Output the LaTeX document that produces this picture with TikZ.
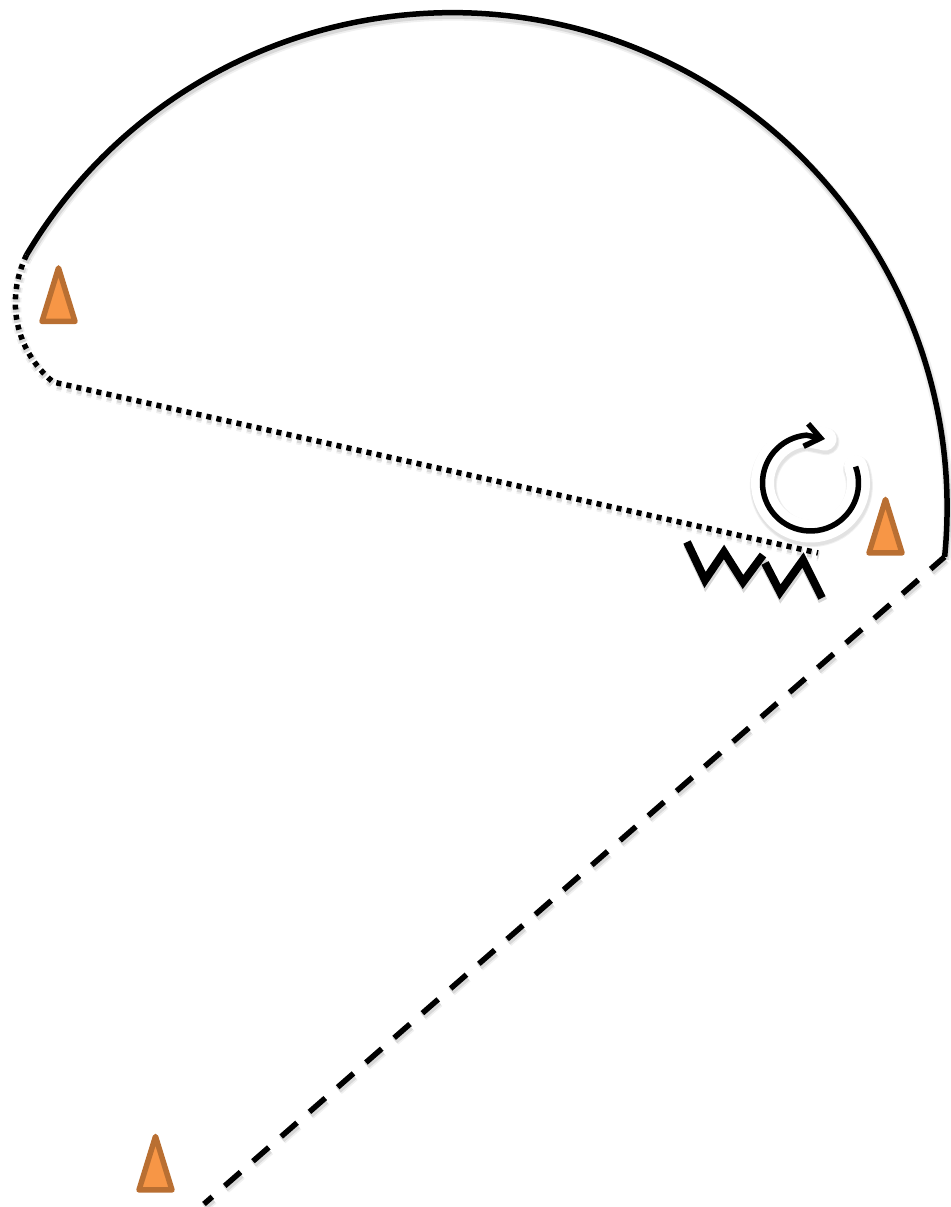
\documentclass[tikz,border=0pt]{standalone}
\usetikzlibrary{arrows.meta}

\definecolor{coneorange}{HTML}{F79646}
\definecolor{coneedge}{HTML}{B96F32}

\tikzset{
  softshadow/.style={
    preaction={draw=black, opacity=0.06, line width=0.2cm, #1, transform canvas={xshift=0.5pt, yshift=-1.7pt}},
    preaction={draw=black, opacity=0.10, line width=0.13cm, #1, transform canvas={xshift=0.5pt, yshift=-1.7pt}}},
  course/.style={line width=0.11cm, softshadow={}},
  coursedots/.style={line width=0.11cm, dash pattern=on 0.1cm off 0.105cm, softshadow={dash pattern=on 0.1cm off 0.105cm}},
  coursedash/.style={line width=0.11cm, dash pattern=on 0.42cm off 0.33cm, dash phase=0.05cm,
    softshadow={dash pattern=on 0.42cm off 0.33cm, dash phase=0.05cm}},
  zigzag/.style={line width=0.16cm, line join=miter, softshadow={line width=0.18cm}},
  haloring/.style={line width=0.46cm, white, line cap=round},
  haloshade/.style={line cap=round, black, opacity=0.06, transform canvas={xshift=0.5pt, yshift=-1.5pt}},
  cone/.pic={
    \draw[line width=0.11cm, line join=round, draw=coneedge, fill=coneorange]
      (0,1.07) -- (0.33,0) -- (-0.33,0) -- cycle;
  }
}

\begin{document}
\begin{tikzpicture}

\useasboundingbox (0,0) rectangle (19,24.14);

% Course outline
\coordinate (arcstart) at (0.53,19.04);
\coordinate (dotbend) at (1.06,16.5);
\coordinate (dotend) at (16.36,13.08);
\coordinate (dashend) at (4.08,0.06);

\draw[course] (arcstart) arc[start angle=149.3, end angle=-5.7, radius=9.9] coordinate (arcend);
\draw[coursedash] (arcend) -- (dashend);
\draw[coursedots] (arcstart) .. controls (0.1,18.14) and (0.3,17.14) .. (dotbend) -- (dotend);

% Cones
\pic at (1.17,17.71) {cone};
\pic at (17.71,13.08) {cone};
\pic at (3.11,0.34) {cone};

% Rotation mark
\coordinate (spin) at (16.21,14.48);
\coordinate (spintip) at (16.5,15.36);
\draw[haloshade, line width=0.54cm] (spin) ++(20:0.96) arc[start angle=20, end angle=-265, radius=0.96] -- (spintip);
\draw[haloshade, line width=0.5cm] (spin) ++(20:0.96) arc[start angle=20, end angle=-265, radius=0.96] -- (spintip);
\draw[haloring] (spin) ++(20:0.96) arc[start angle=20, end angle=-265, radius=0.96] -- (spintip);
\draw[line width=0.11cm, -{Straight Barb[length=0.3cm, width=0.46cm]}] (spin) ++(20:0.96) arc[start angle=20, end angle=-265, radius=0.96] -- (spintip);

% Spring
\draw[zigzag] (13.74,13.3) -- (14.1,12.54) -- (14.48,13.1) -- (14.86,12.5) -- (15.26,13.04);
\draw[zigzag] (15.3,12.88) -- (15.6,12.3) -- (16.06,12.94) -- (16.44,12.18);

\end{tikzpicture}
\end{document}
